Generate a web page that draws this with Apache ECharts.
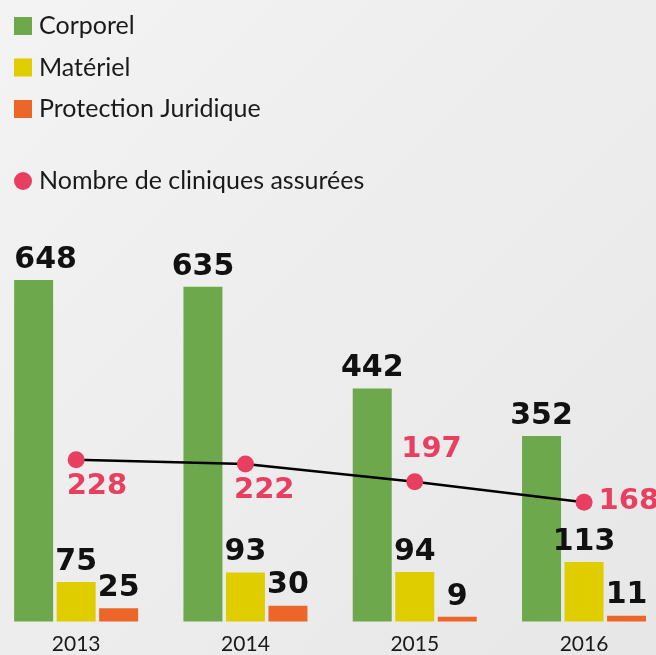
<!DOCTYPE html>
<html>
<head>
<meta charset="utf-8">
<script src="https://cdn.jsdelivr.net/npm/echarts@6.0.0/dist/echarts.min.js"></script>
<style>
html, body { margin: 0; padding: 0; }
#chart { width: 656px; height: 655px; }
</style>
</head>
<body>
<div id="chart"></div>
<script>
var years = ['2013', '2014', '2015', '2016'];
var corporel = [648, 635, 442, 352];
var materiel = [75, 93, 94, 113];
var protection = [25, 30, 9, 11];
var cliniques = [228, 222, 197, 168];

// placement des étiquettes roses autour des points
var pinkLabelPos = [[-1, 21], [-3, 21], [-5, -38], [23, -7]];

var myChart = echarts.init(document.getElementById('chart'));

var valueLabel = {
	show: true,
	position: 'top',
	distance: 5,
	color: '#111',
	fontFamily: 'DejaVu Sans',
	fontWeight: 'bold',
	fontSize: 30
};

var legendText = {
	color: '#1a1a1a',
	fontFamily: 'Lato',
	fontSize: 25,
	lineHeight: 30,
	padding: [0, 0, 0, 2]
};

var corporelData = [];
for (var i = 0; i < corporel.length; i++) {
	var item = { value: corporel[i] };
	if (i == 0) {
		item.label = { offset: [12, 0] };
	}
	corporelData.push(item);
}

var cliniqueData = [];
for (var j = 0; j < cliniques.length; j++) {
	cliniqueData.push({
		value: cliniques[j],
		label: { position: pinkLabelPos[j] }
	});
}

var option = {
	backgroundColor: {
		type: 'linear', x: 0, y: 0, x2: 1, y2: 1,
		colorStops: [{ offset: 0, color: '#f3f3f3' }, { offset: 1, color: '#e7e7e7' }]
	},
	animation: false,
	legend: [{
		orient: 'vertical',
		left: 9,
		top: 6,
		itemWidth: 18,
		itemHeight: 18,
		itemGap: 11.5,
		icon: 'rect',
		selectedMode: false,
		data: ['Corporel', 'Matériel', 'Protection Juridique'],
		textStyle: legendText
	}, {
		orient: 'vertical',
		left: 9,
		top: 161,
		itemWidth: 18,
		itemHeight: 18,
		icon: 'circle',
		selectedMode: false,
		data: ['Nombre de cliniques assurées'],
		textStyle: legendText
	}],
	grid: {
		left: -8.5,
		right: -12.7,
		top: 252.5,
		bottom: 33.5,
		containLabel: false,
		outerBoundsMode: 'none'
	},
	xAxis: {
		type: 'category',
		data: years,
		axisLine: { show: false },
		axisTick: { show: false },
		axisLabel: {
			margin: 12,
			color: '#1a1a1a',
			fontFamily: 'Lato',
			fontSize: 21
		}
	},
	yAxis: [{
		type: 'value',
		min: 0,
		max: 700,
		show: false
	}, {
		type: 'value',
		min: 0,
		max: 520,
		show: false
	}],
	series: [{
		name: 'Corporel',
		type: 'bar',
		barWidth: 39,
		barGap: '9%',
		itemStyle: { color: '#6da84c' },
		label: valueLabel,
		data: corporelData
	}, {
		name: 'Matériel',
		type: 'bar',
		barWidth: 39,
		barGap: '9%',
		itemStyle: { color: '#dfcd00' },
		label: valueLabel,
		data: materiel
	}, {
		name: 'Protection Juridique',
		type: 'bar',
		barWidth: 39,
		barGap: '9%',
		itemStyle: { color: '#eb6628' },
		label: valueLabel,
		data: protection
	}, {
		name: 'Nombre de cliniques assurées',
		type: 'line',
		yAxisIndex: 1,
		symbol: 'circle',
		symbolSize: 17,
		z: 5,
		itemStyle: { color: '#e83f61' },
		lineStyle: { color: '#000', width: 2.5 },
		label: {
			show: true,
			color: '#e83f61',
			fontFamily: 'DejaVu Sans',
			fontWeight: 'bold',
			fontSize: 29
		},
		data: cliniqueData
	}]
};

myChart.setOption(option);
</script>
</body>
</html>
